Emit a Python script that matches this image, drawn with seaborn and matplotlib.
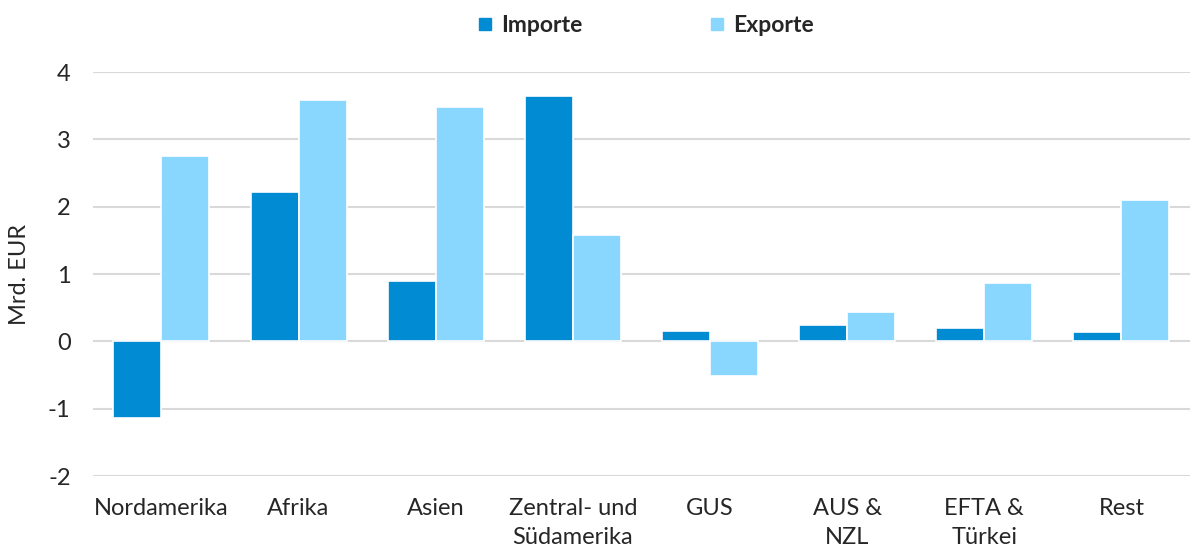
import matplotlib
matplotlib.use("Agg")
import matplotlib.pyplot as plt
import seaborn as sns
import pandas as pd
from matplotlib.lines import Line2D

categories = ["Nordamerika", "Afrika", "Asien", "Zentral- und\nSüdamerika", "GUS",
              "AUS &\nNZL", "EFTA &\nTürkei", "Rest"]
importe = [-1.13, 2.22, 0.90, 3.65, 0.15, 0.25, 0.20, 0.14]
exporte = [2.75, 3.58, 3.48, 1.58, -0.52, 0.43, 0.87, 2.10]
series = ["Importe", "Exporte"]
colors = ["#008BD2", "#89D7FF"]
yticks = [-2, -1, 0, 1, 2, 3, 4]

df = pd.DataFrame({
    "Region": categories * 2,
    "Wert": importe + exporte,
    "Serie": [series[0]] * len(categories) + [series[1]] * len(categories),
})

sns.set_theme(style="white")
plt.rcParams["font.family"] = ["Lato", "DejaVu Sans"]

fig = plt.figure(figsize=(11.9, 5.51), dpi=100)
ax = fig.add_axes([0.078, 0.136, 0.922, 0.733])

for y in yticks:
    ax.axhline(y, color="#D9D9D9", linewidth=1.5, zorder=0)

sns.barplot(data=df, x="Region", y="Wert", hue="Serie", palette=colors,
            saturation=1, width=0.7, edgecolor="white", linewidth=1.2, ax=ax,
            legend=False, zorder=2)

ax.set_ylim(-2, 4)
ax.set_xlim(-0.5, len(categories) - 0.5)
ax.set_yticks(yticks)
ax.set_yticklabels([str(t) for t in yticks], fontsize=17)
ax.tick_params(axis="x", labelsize=17, length=0, pad=16)
ax.tick_params(axis="y", length=0, pad=16)
for lbl in ax.get_xticklabels():
    lbl.set_linespacing(1.45)
ax.set_xlabel("")
ax.set_ylabel("Mrd. EUR", fontsize=17)
ax.yaxis.set_label_coords(-0.057, 0.5)
for s in ax.spines.values():
    s.set_visible(False)

handles = [Line2D([0], [0], marker="s", linestyle="", markersize=8,
                  markerfacecolor=c, markeredgecolor=c) for c in colors]
fig.legend(handles, series, loc="upper center", bbox_to_anchor=(0.542, 1.01),
           ncol=2, frameon=False, prop={"weight": "bold", "size": 16.5},
           columnspacing=5.5, handletextpad=0.3, handlelength=0.8)

fig.savefig("out.png", dpi=100)
